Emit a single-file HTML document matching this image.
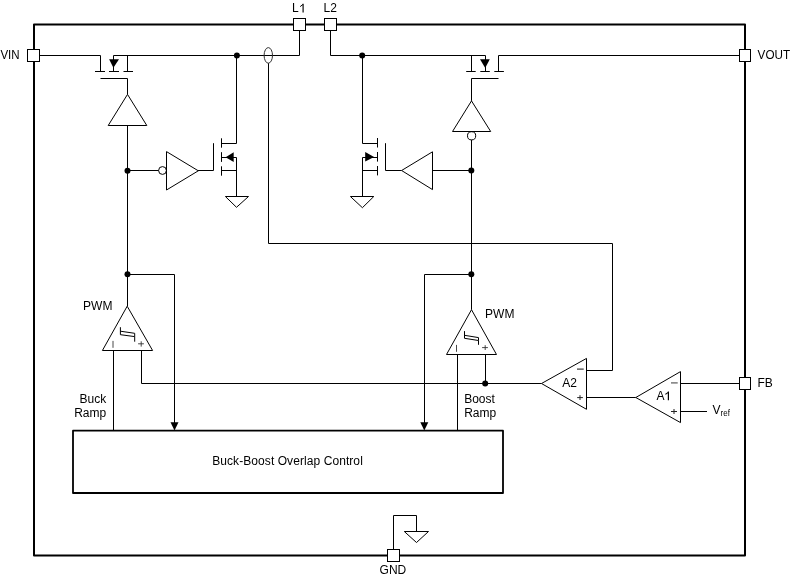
<!DOCTYPE html>
<html><head><meta charset="utf-8">
<style>
html,body{margin:0;padding:0;background:#fff;width:791px;height:577px;overflow:hidden}
svg{display:block;will-change:transform}
text{font-family:"Liberation Sans",sans-serif;font-size:12px;fill:#000}
</style></head><body>
<svg width="791" height="577" viewBox="0 0 791 577">
<g fill="none" stroke="#000" stroke-width="1" stroke-linecap="butt" stroke-linejoin="miter">
<!-- frame -->
<rect x="34" y="24.5" width="711" height="531" stroke-width="2" stroke-linejoin="round"/>

<!-- ===== left PMOS (buck high side) ===== -->
<path d="M39.5 55.5H100.5V71.5"/>
<path d="M95 71.5H105M109 71.5H119M123.5 71.5H133"/>
<path d="M113.5 71.5V55.5H299.5V30.5"/>
<path d="M127.5 71.5V55.5"/>
<path d="M100.5 78.5H127.5V94.4"/>
<path d="M127.5 94.4L108.2 125.5H146.8Z"/>
<path d="M127.5 125.5V306"/>
<!-- inverter to NMOS -->
<path d="M127.5 170.5H158.6"/>
<circle cx="162.5" cy="170.5" r="3.9"/>
<path d="M166.5 151.6V190L198.3 170.8Z"/>
<path d="M197.9 170.5H213.5V143.2"/>
<path d="M221.5 138.3V147.7M221.5 152.2V161.9M221.5 166.3V175.7"/>
<path d="M221.5 143.5H236.5V55.5"/>
<path d="M221.5 157.5H236.5V196.5"/>
<path d="M221.5 170.5H236.5"/>
<path d="M225.4 196.5H248.5L236.5 207.3Z"/>
<!-- current sense -->
<ellipse cx="268.3" cy="55.4" rx="4.2" ry="7.8" stroke="#333"/>
<path d="M268.5 63.3V243.5H612.5V370.5H586.5"/>

<!-- ===== right side ===== -->
<path d="M330.5 30.5V55.5H485.5V71.5"/>
<path d="M362.5 55.5V143.5H377.5"/>
<path d="M377.5 138V147.5M377.5 152V161.6M377.5 166V175.4"/>
<path d="M377.5 157.5H362.5V196.3"/>
<path d="M362.5 170.5H377.5"/>
<path d="M350.4 196.5H373.8L362.4 207.7Z"/>
<path d="M385.5 143.2V170.5H401.6"/>
<path d="M401.6 170.5L432.5 151.8V189.6Z"/>
<path d="M432.5 170.5H471.5"/>
<!-- right PMOS -->
<path d="M471.5 55.5V71.5"/>
<path d="M498.5 71.5V55.5H739"/>
<path d="M466.2 71.5H475.7M480.3 71.5H489.8M494.3 71.5H503.9"/>
<path d="M498.5 78.5H471.5V100.9"/>
<path d="M471.5 100.9L452.5 131.5H490.7Z"/>
<circle cx="471.6" cy="135.8" r="4.1"/>
<path d="M471.5 139.9V309.7"/>

<!-- feedback wires to overlap control -->
<path d="M127.5 274.5H174.5V424"/>
<path d="M471.5 274.5H424.5V424"/>

<!-- PWM comparators -->
<path d="M127.2 306.2L102.4 350.5H152.6Z"/>
<path d="M471.5 309.7L446.5 354.5H496.5Z"/>
<path d="M113.5 350.5V430.5M141.5 350.5V383.5H541.5"/>
<path d="M457.5 354.5V430.5M485.5 354.5V383.5"/>
<!-- hysteresis symbols -->
<path d="M120.4 327.2V334.7L134.7 336.6V341.7M120.4 331.2L134.7 333.3V336.6"/>
<path d="M464.5 331.1V338.3L478.5 340.5V344.8M464.5 335.3L478.5 337.6V340.5"/>

<!-- A2 -->
<path d="M541.5 383.5L586.5 358.4V409.3Z"/>
<path d="M586.5 397.5H635.8"/>
<!-- A1 -->
<path d="M635.8 397.5L680.5 371.6V422.6Z"/>
<path d="M680.5 383.5H739.5M680.5 411.5H707"/>

<!-- overlap control box -->
<rect x="73" y="430.7" width="430" height="62.3" stroke-width="1.8" stroke-linejoin="round"/>

<!-- GND -->
<path d="M393.5 549.5V515.5H416.5V531.5"/>
<path d="M404.3 531.5H428.5L416.5 542.5Z"/>

<!-- pins -->
<g fill="#fff" stroke-width="1">
<rect x="27.5" y="49.5" width="12" height="12"/>
<rect x="739.5" y="49.5" width="11" height="12"/>
<rect x="293.5" y="18.5" width="12" height="12"/>
<rect x="324.5" y="18.5" width="12" height="12"/>
<rect x="739.5" y="377.5" width="11" height="12"/>
<rect x="387.5" y="549.5" width="12" height="12"/>
</g>
</g>

<!-- filled items -->
<g fill="#000" stroke="none">
<circle cx="236.9" cy="55.4" r="3"/>
<circle cx="362.2" cy="55.4" r="3"/>
<circle cx="127.5" cy="170.8" r="3"/>
<circle cx="127.5" cy="274.3" r="3"/>
<circle cx="471.3" cy="170.5" r="3"/>
<circle cx="471.3" cy="274.2" r="3"/>
<circle cx="485.2" cy="383.5" r="3"/>
<path d="M109.1 59.2H119L113.4 67.8Z"/>
<path d="M480 59.3H489.8L485.2 67.9Z"/>
<path d="M225.6 157.2L233.7 152.2V161.9Z"/>
<path d="M374.1 157L365.2 152V161.6Z"/>
<path d="M170.5 422.3H178.5L174.5 430.4Z"/>
<path d="M420.3 422.3H428.3L424.3 430.4Z"/>
</g>

<!-- small gray signs -->
<g stroke="#333" stroke-width="0.9" fill="none">
<path d="M113 340.9V347.8M138.1 343.8H143.9M141.2 341.3V346.6"/>
<path d="M456.5 344.9V351.8M482.1 347.6H487.9M485.2 345.2V350"/>
</g>
<g stroke="#666" stroke-width="1.3" fill="none">
<path d="M671 382.9H677.7"/>
</g>
<g stroke="#222" stroke-width="1" fill="none">
<path d="M577 369.1H583.7" stroke-width="1.1"/>
<path d="M577.2 397.6H582.9M580 395.2V400"/>
<path d="M671 411.5H677M674 409V414"/>
</g>
<g stroke="#000" stroke-width="1.4" fill="none">
<path d="M303.1 3.7V12.4" stroke-width="1.15"/><path d="M303 4.4L300.2 6.6" stroke-width="1"/>
<path d="M668.4 391.4V400.3" stroke-width="1.2"/><path d="M668.3 392.4L665.4 394.4" stroke-width="1.1"/>
</g>

<!-- labels -->
<text x="0.4" y="58.6" textLength="19.2" lengthAdjust="spacingAndGlyphs">VIN</text>
<text x="757.6" y="58.6" textLength="32.5" lengthAdjust="spacingAndGlyphs">VOUT</text>
<text x="291.9" y="12.3">L</text>
<text x="323.5" y="12.3">L2</text>
<text x="757.5" y="386.8">FB</text>
<text x="379.6" y="574.3">GND</text>
<text x="83.1" y="310">PWM</text>
<text x="485.1" y="317.9">PWM</text>
<text x="106.2" y="403.4" text-anchor="end">Buck</text>
<text x="106.2" y="417.1" text-anchor="end">Ramp</text>
<text x="464.2" y="403.4">Boost</text>
<text x="464.2" y="417.1">Ramp</text>
<text x="562.2" y="386.9">A2</text>
<text x="656.6" y="399.7">A</text>
<text x="712.6" y="414.1">V<tspan font-size="8.6" dy="1.5" textLength="9.3" lengthAdjust="spacingAndGlyphs">ref</tspan></text>
<text x="212.2" y="465" textLength="150.6" lengthAdjust="spacing">Buck-Boost Overlap Control</text>
</svg>
</body></html>
